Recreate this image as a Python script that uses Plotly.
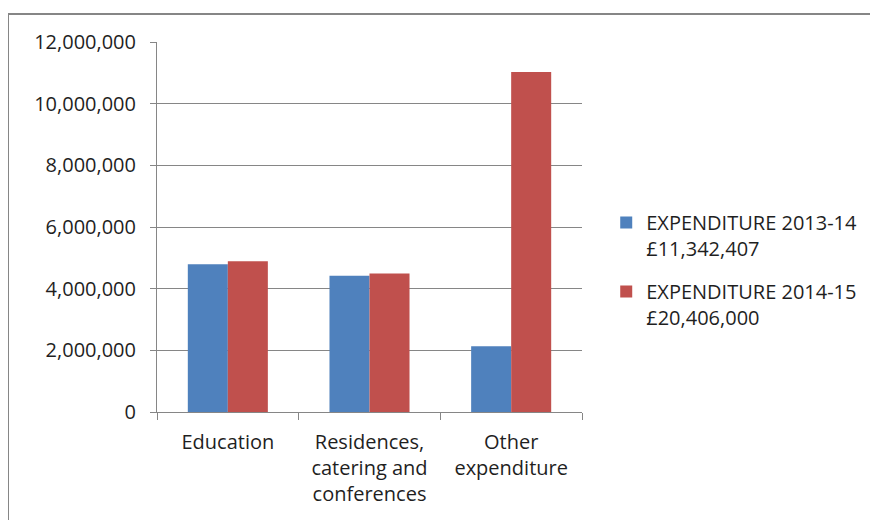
import plotly.graph_objects as go

categories = ["Education", "Residences,<br>catering and<br>conferences", "Other<br>expenditure"]
series_names = ["EXPENDITURE 2013-14<br>£11,342,407", "EXPENDITURE 2014-15<br>£20,406,000"]
values_2013_14 = [4790000, 4420000, 2130000]
values_2014_15 = [4890000, 4490000, 11030000]
y_ticks = [0, 2000000, 4000000, 6000000, 8000000, 10000000, 12000000]

colors = ["#4F81BD", "#C0504D"]
FONT = "Open Sans"
GREY = "#868686"
TXT = "#1f1f1f"
FS = 20

fig = go.Figure()
for i, (name, vals) in enumerate(zip(series_names, [values_2013_14, values_2014_15])):
    fig.add_trace(go.Bar(x=categories, y=vals, name=name, marker_color=colors[i],
                         marker_line_width=0, legendgroup=f"g{i}"))

fig.update_layout(
    width=870, height=512,
    margin=dict(l=149, r=296, t=34, b=108),
    paper_bgcolor="white", plot_bgcolor="white",
    barmode="group", bargap=0.435, bargroupgap=0,
    font=dict(family=FONT, size=FS, color=TXT),
    legend=dict(x=1.057, y=0.565, xanchor="left", yanchor="top",
                font=dict(family=FONT, size=FS, color=TXT),
                tracegroupgap=14, valign="top", itemwidth=30,
                bgcolor="rgba(0,0,0,0)"),
    showlegend=True,
)
fig.update_yaxes(range=[0, 12000000], tickvals=y_ticks, tickformat=",",
                 showgrid=True, gridcolor=GREY, gridwidth=1,
                 showline=True, linecolor=GREY, linewidth=1,
                 ticks="outside", ticklen=6, tickcolor=GREY,
                 zeroline=False, ticklabelstandoff=10,
                 tickfont=dict(family=FONT, size=FS, color=TXT))
fig.update_xaxes(showline=True, linecolor=GREY, linewidth=1,
                 ticks="outside", ticklen=7, tickcolor=GREY,
                 tickson="boundaries", showgrid=False, ticklabelstandoff=12,
                 tickfont=dict(family=FONT, size=FS, color=TXT))

# outer chart border (top and left visible)
x0 = -149 / 425
ytop = (412 - 14) / 370
fig.add_shape(type="line", xref="paper", yref="paper", x0=x0, x1=2.0, y0=ytop, y1=ytop,
              line=dict(color=GREY, width=2))
fig.add_shape(type="line", xref="paper", yref="paper", x0=x0, x1=x0, y0=-0.5, y1=ytop,
              line=dict(color=GREY, width=2))

fig.write_html("out.html")
